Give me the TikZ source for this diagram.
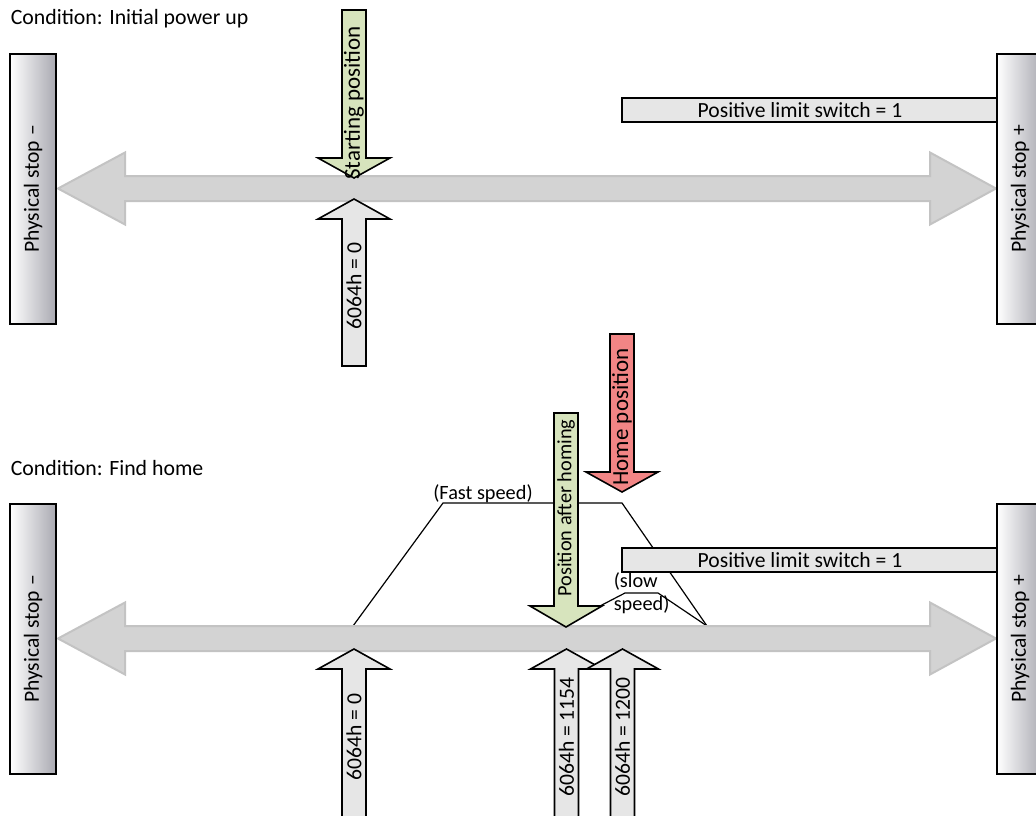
\documentclass[tikz,border=0pt]{standalone}
\usepackage{fontspec}
\setmainfont{Carlito}
\usetikzlibrary{calc}
\definecolor{cgreen}{HTML}{D7E4BD}
\definecolor{cred}{HTML}{F28585}
\definecolor{clight}{HTML}{E6E6E6}
\definecolor{cband}{HTML}{D3D3D3}
\definecolor{cbandedge}{HTML}{C3C3C3}
\definecolor{cshade}{HTML}{A9A9B1}
\tikzset{
  every picture/.style={line width=1.6pt},
  stopbar/.style={draw=black, left color=white, right color=cshade},
  limitbar/.style={draw=black, fill=clight},
  band/.style={draw=cbandedge, fill=cband, line width=2pt},
  posarrow/.style={draw=black, fill=#1},
  posarrow/.default=clight,
  speed/.style={draw=black, line width=1.2pt},
  txt/.style={font=\fontsize{21.6}{25}\selectfont, inner sep=0pt},
  bigtxt/.style={font=\fontsize{23}{27}\selectfont, inner sep=0pt},
  smalltxt/.style={font=\fontsize{20.3}{23}\selectfont, inner sep=0pt},
  title/.style={font=\fontsize{21.8}{25}\selectfont, inner sep=0pt, anchor=base west},
}

\begin{document}
\begin{tikzpicture}[x=1pt, y=-1pt]
  \useasboundingbox (0,0) rectangle (1036,816);
  % speed profile, runs behind the limit switch bar
  \draw[speed] (353,626) -- (443,503) -- (622,503) -- (707,626);
  \draw[speed] (598,607) -- (625,593) -- (658,593) -- (707,626);
  \node[smalltxt, anchor=base] (fast) at (483,499) {(Fast speed)};
  \node[smalltxt, anchor=base west] (slowa) at (613,587) {(slow};
  \node[smalltxt, anchor=base west] (slowb) at (613,610) {speed)};
  % the two conditions share axis, stops and limit switch
  \foreach \s/\dy/\cond in {a/0/Initial power up, b/450/Find home} {
    \begin{scope}[yshift=-\dy pt]
      \node[title] (cond\s) at (10,25) {Condition: \cond};
      \draw[band] (58,188.5) -- (125,152.5) -- (125,176) -- (930,176) -- (930,152.5) -- (996,188.5)
        -- (930,224.5) -- (930,201) -- (125,201) -- (125,224.5) -- cycle;
      \draw[limitbar] (622,98) rectangle (1000,122);
      \node[txt] (limit\s) at (800,110) {Positive limit switch = 1};
      \draw[stopbar] (10,54) rectangle (56,324);
      \node[txt, rotate=90] (stopL\s) at (33,189) {Physical stop –};
      \draw[stopbar] (997,54) rectangle (1043,324);
      \node[txt, rotate=90] (stopR\s) at (1020,189) {Physical stop +};
    \end{scope}
  }
  % markers pointing down
  \foreach \x/\t/\b/\tip/\c in {354/10/158/178/cgreen, 622/334/472/492/cred, 566/413/606/627/cgreen}
    \draw[posarrow=\c] ({\x-12},\t) -- ({\x+12},\t) -- ({\x+12},\b) -- ({\x+36},\b) -- (\x,\tip)
      -- ({\x-36},\b) -- ({\x-12},\b) -- cycle;
  % markers pointing up (actual position 6064h)
  \foreach \x/\tip/\e in {354/199/366, 354/649/830, 566.5/649/830, 622.5/649/830}
    \draw[posarrow] (\x,\tip) -- ({\x+36},{\tip+20}) -- ({\x+12},{\tip+20}) -- ({\x+12},\e)
      -- ({\x-12},\e) -- ({\x-12},{\tip+20}) -- ({\x-36},{\tip+20}) -- cycle;
  \node[bigtxt, rotate=90] (start) at (354,103) {Starting position};
  \node[bigtxt, rotate=90] (home) at (622,417) {Home position};
  \node[smalltxt, rotate=90] (after) at (566,508) {Position after homing};
  \node[txt, rotate=90] (posa) at (354,286) {6064h = 0};
  \node[txt, rotate=90] (posb) at (354,737) {6064h = 0};
  \node[txt, rotate=90] (posc) at (566.5,737) {6064h = 1154};
  \node[txt, rotate=90] (posd) at (622.5,737) {6064h = 1200};
\end{tikzpicture}
\end{document}
